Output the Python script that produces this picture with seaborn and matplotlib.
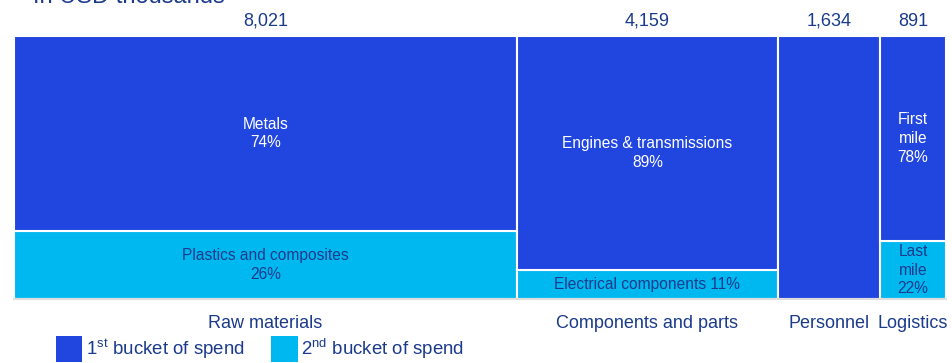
import matplotlib
matplotlib.use("Agg")
import matplotlib.pyplot as plt
from matplotlib.patches import Patch
import seaborn as sns

# ---- data ----
categories = ["Raw materials", "Components and parts", "Personnel", "Logistics"]
totals = [8021, 4159, 1634, 891]
first_share = [0.74, 0.89, 1.00, 0.78]
second_share = [0.26, 0.11, 0.00, 0.22]
first_labels = ["Metals\n74%", "Engines & transmissions\n89%", "", "First\nmile\n78%"]
second_labels = ["Plastics and composites\n26%", "Electrical components 11%", "", "Last\nmile\n22%"]
legend_labels = [r"1$^{\mathrm{st}}$ bucket of spend", r"2$^{\mathrm{nd}}$ bucket of spend"]
title = "In USD thousands"

# ---- style ----
sns.set_theme(style="white")
plt.rcParams["font.family"] = ["Liberation Sans", "DejaVu Sans"]
plt.rcParams["mathtext.fontset"] = "custom"
plt.rcParams["mathtext.rm"] = "Liberation Sans"
plt.rcParams["mathtext.it"] = "Liberation Sans:italic"
plt.rcParams["mathtext.bf"] = "Liberation Sans:bold"

DARK = "#2146E0"
LIGHT = "#00B8F0"
NAVY = "#1A3A8C"
MIN_W = 1050  # minimum displayed width so narrow columns stay readable

fig = plt.figure(figsize=(9.52, 3.63), dpi=100)
ax = fig.add_axes([14 / 952, 1 - 299 / 363, 932 / 952, 263 / 363])

widths = [max(t, MIN_W) for t in totals]
lefts = []
acc = 0
for w in widths:
    lefts.append(acc)
    acc += w
centers = [l + w / 2 for l, w in zip(lefts, widths)]

ax.bar(lefts, second_share, width=widths, align="edge", color=LIGHT,
       edgecolor="white", linewidth=1.5)
ax.bar(lefts, first_share, width=widths, bottom=second_share, align="edge",
       color=DARK, edgecolor="white", linewidth=1.5)

for c, s1, s2, l1, l2 in zip(centers, first_share, second_share, first_labels, second_labels):
    if l1:
        ax.text(c, s2 + s1 / 2, l1, ha="center", va="center", color="white",
                fontsize=11.2, linespacing=1.3)
    if l2:
        ax.text(c, s2 / 2, l2, ha="center", va="center", color=NAVY,
                fontsize=11.2, linespacing=1.3)

for c, t, cat in zip(centers, totals, categories):
    ax.text(c, 1.0 + 15 / 263, f"{t:,}", ha="center", va="center",
            color=NAVY, fontsize=13)
    ax.text(c, -24 / 263, cat, ha="center", va="center", color=NAVY,
            fontsize=13)

ax.set_xlim(0, acc)
ax.set_ylim(0, 1)
ax.set_xticks([])
ax.set_yticks([])
for side in ["top", "left", "right"]:
    ax.spines[side].set_visible(False)
ax.spines["bottom"].set_color("#DDDDDD")
ax.spines["bottom"].set_linewidth(1.5)

fig.text(33 / 952, 1 + 3 / 363, title, ha="left", va="center", color=NAVY, fontsize=17)

handles = [Patch(facecolor=DARK, edgecolor="none"), Patch(facecolor=LIGHT, edgecolor="none")]
fig.legend(handles, legend_labels, loc="lower left", bbox_to_anchor=(56 / 952, 1 / 363),
           ncol=2, frameon=False, fontsize=13.4, handlelength=1.4, handleheight=1.75,
           handletextpad=0.2, columnspacing=1.45, labelcolor=NAVY, borderpad=0,
           borderaxespad=0)

fig.savefig("out.png", dpi=100)
